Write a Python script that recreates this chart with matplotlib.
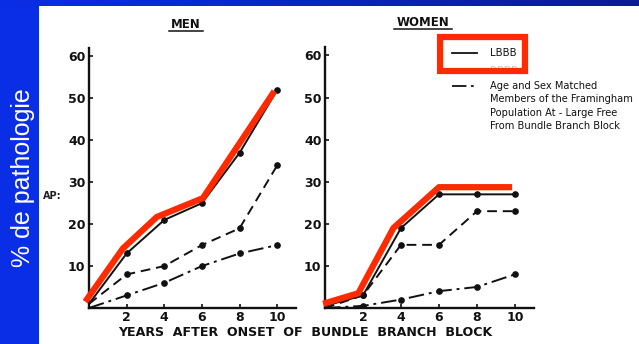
import numpy as np
import matplotlib
matplotlib.use("Agg")
import matplotlib.pyplot as plt
from matplotlib.patches import Rectangle

# ---- data -------------------------------------------------------------
years = [0, 2, 4, 6, 8, 10]

men_lbbb = [1, 13, 21, 25, 37, 52]
men_rbbb = [1, 8, 10, 15, 19, 34]
men_fram = [0, 3, 6, 10, 13, 15]

women_lbbb = [0.5, 3, 19, 27, 27, 27]
women_rbbb = [0, 3, 15, 15, 23, 23]
women_fram = [0, 0.5, 2, 4, 5, 8]

# hand-drawn highlight traced over the LBBB curves
men_hl_x = [-0.2, 1.8, 3.6, 6.05, 9.85]
men_hl_y = [1.5, 14.2, 21.7, 26.2, 51.7]
women_hl_x = [-0.1, 1.75, 3.6, 6.0, 9.85]
women_hl_y = [1.0, 3.5, 19.0, 28.7, 28.7]

xticks = [2, 4, 6, 8, 10]
yticks = [10, 20, 30, 40, 50, 60]
panel_titles = ["MEN", "WOMEN"]
legend_lines = ["Age and Sex Matched", "Members of the Framingham",
                "Population At - Large Free", "From Bundle Branch Block"]
xlabel = "YEARS  AFTER  ONSET  OF  BUNDLE  BRANCH  BLOCK"
side_label = "% de pathologie"

# ---- figure -----------------------------------------------------------
W, H = 639, 344
fig = plt.figure(figsize=(W / 100, H / 100), dpi=100)

BLUE = "#0a2ee6"
RED = "#ff2a00"
INK = "#111111"

# slide background: blue with a darkening top band
bg = fig.add_axes([0, 0, 1, 1])
bg.set_axis_off()
grad = np.linspace(0, 1, 256)
c0 = np.array([0x0a, 0x2e, 0xe6]) / 255
c1 = np.array([0x0a, 0x1a, 0x98]) / 255
img = np.ones((H, 256, 3)) * c0
top_rows = 7
img[:top_rows] = c0 + (c1 - c0) * grad[None, :, None]
bg.imshow(img, aspect="auto", extent=[0, W, H, 0], interpolation="bilinear")
bg.add_patch(Rectangle((39, 6), W - 39, H - 6, facecolor="white", edgecolor="none"))
bg.set_xlim(0, W)
bg.set_ylim(H, 0)

bg.text(23, 178, side_label, rotation=90, color="white", fontsize=18,
        family="Liberation Sans", ha="center", va="center")


def px_axes(x0, y0, x1, y1):
    return fig.add_axes([x0 / W, 1 - y1 / H, (x1 - x0) / W, (y1 - y0) / H])


def style(ax):
    ax.set_xlim(0, 11)
    ax.set_ylim(0, 62)
    for s in ("top", "right"):
        ax.spines[s].set_visible(False)
    for s in ("left", "bottom"):
        ax.spines[s].set_linewidth(1.7)
        ax.spines[s].set_color(INK)
    ax.set_xticks(xticks)
    ax.set_yticks(yticks)
    ax.set_xticklabels([str(t) for t in xticks], fontsize=9, fontweight="bold")
    ax.set_yticklabels([str(t) for t in yticks], fontsize=9, fontweight="bold")
    ax.tick_params(direction="in", length=3, width=1.2, pad=2.5, colors=INK)
    ax.patch.set_alpha(0)


def draw_series(ax, lb, rb, fr):
    k = dict(color=INK, lw=1.4, marker="o", ms=3.8, markevery=slice(1, None))
    ax.plot(years, lb, ls="-", **k)
    ax.plot(years, rb, ls=(0, (5, 3)), **k)
    ax.plot(years, fr, ls=(0, (8, 2.5, 1.5, 2.5)), **k)


ax_m = px_axes(89, 48, 296, 308)
style(ax_m)
draw_series(ax_m, men_lbbb, men_rbbb, men_fram)
ax_m.plot(men_hl_x, men_hl_y, color=RED, lw=4.5, solid_capstyle="butt",
          solid_joinstyle="miter", clip_on=False, zorder=5)

ax_w = px_axes(325, 47, 534, 308)
style(ax_w)
draw_series(ax_w, women_lbbb, women_rbbb, women_fram)
ax_w.plot(women_hl_x, women_hl_y, color=RED, lw=4.5, solid_capstyle="butt",
          solid_joinstyle="miter", clip_on=False, zorder=5)

# panel titles, underlined
for (cx, cy, t, half) in [(186, 24, panel_titles[0], 17), (423, 22, panel_titles[1], 29)]:
    bg.text(cx, cy, t, fontsize=8.5, fontweight="bold", ha="center",
            va="center", color=INK)
    bg.plot([cx - half, cx + half], [cy + 7, cy + 7], color=INK, lw=1.1)

# stray axis label remnant
bg.text(43, 196, "AP:", fontsize=7, fontweight="bold", color="#222222",
        ha="left", va="center")

# legend
bg.plot([452, 477], [53, 53], color=INK, lw=1.3)
bg.text(490, 53, "LBBB", fontsize=7.3, color=INK, va="center")
bg.text(490, 71, "RBBB", fontsize=7.3, color="#c8c8c8", va="center")
bg.plot([452, 477], [86, 86], color=INK, lw=1.3,
        ls=(0, (8, 2.5, 1.5, 2.5)))
for i, line in enumerate(legend_lines):
    bg.text(490, 86 + 13.3 * i, line, fontsize=7.1, color=INK,
            va="center", ha="left")
bg.add_patch(Rectangle((440, 37), 85, 34, facecolor="none", edgecolor=RED,
                       lw=4.5, zorder=6))

bg.text(305, 333, xlabel, fontsize=9.1, fontweight="bold", ha="center",
        va="center", color=INK)

fig.savefig("out.png", dpi=100)
